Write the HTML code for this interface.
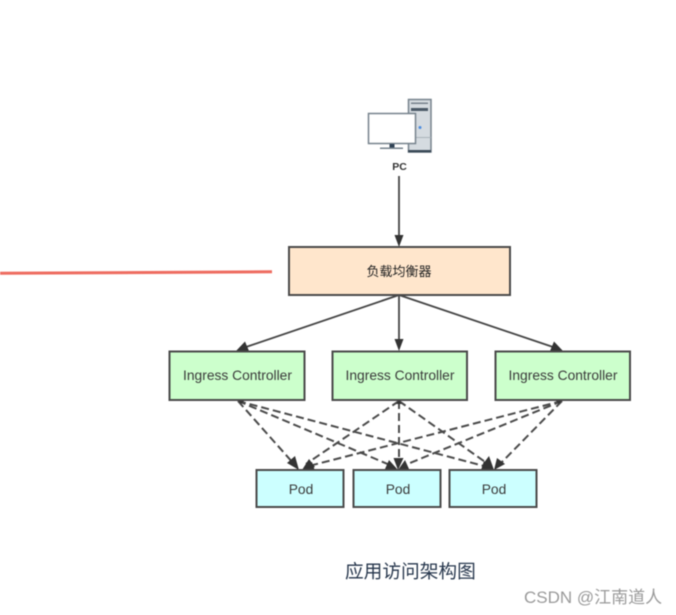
<!DOCTYPE html>
<html>
<head>
<meta charset="utf-8">
<style>
html,body{margin:0;padding:0;background:#fff;width:676px;height:615px;overflow:hidden}
svg{display:block;position:absolute;left:0;top:0}
text{font-family:"Liberation Sans","Noto Sans CJK SC",sans-serif}
.b{stroke:#4a4a4a;stroke-width:2}
.s{stroke:#444;stroke-width:1.800;fill:none}
.d{stroke:#4a4a4a;stroke-width:2;fill:none;stroke-dasharray:8 4}
.a{fill:#333}
.l{font-size:13.800px;fill:#3a3a3a;text-anchor:middle}
#m{filter:blur(0.4px)}
</style>
</head>
<body>
<svg width="676" height="615" viewBox="0 0 676 615">
<rect width="676" height="615" fill="#fff"/>
<g id="m">
<path d="M0 273.300L272 271.800" stroke="#ee6c60" stroke-width="3" fill="none"/>

<!-- PC icon -->
<rect x="408.500" y="99.500" width="22.500" height="52.500" fill="#d5dbe0" stroke="#76828c" stroke-width="1.500"/>
<rect x="408" y="150" width="23" height="2.500" fill="#3b4a58"/>
<rect x="411" y="102.500" width="17" height="1.500" fill="#76828c"/>
<rect x="411" y="108" width="17" height="3" fill="#4a5866"/>
<circle cx="420" cy="127.500" r="1.500" fill="#4d8ee0"/>
<line x1="408.500" y1="137.500" x2="431" y2="137.500" stroke="#aab3ba"/>
<rect x="368.500" y="113.500" width="47" height="30" fill="#fff" stroke="#76828c" stroke-width="1.500"/>
<rect x="389.500" y="144" width="5" height="4" fill="#2f4254"/>
<rect x="380" y="147.500" width="23" height="1.500" fill="#76828c"/>
<text x="399.500" y="170" font-size="10.500" font-weight="bold" fill="#333" text-anchor="middle">PC</text>

<!-- Solid connectors -->
<line class="s" x1="399" y1="176" x2="399" y2="238"/>
<polygon class="a" points="399,247 394.500,235 403.500,235"/>
<line class="s" x1="399" y1="295" x2="246" y2="347"/>
<polygon class="a" points="236,351 245,341.500 249,351"/>
<line class="s" x1="399" y1="295" x2="399" y2="342"/>
<polygon class="a" points="399,351 394.500,339 403.500,339"/>
<line class="s" x1="399" y1="295" x2="553" y2="347"/>
<polygon class="a" points="563,351 550,351 554,341.500"/>

<!-- Dashed connectors -->
<path class="d" d="M238 401L294 464"/>
<path class="d" d="M238 401L390 465"/>
<path class="d" d="M238 401L484 466"/>
<path class="d" d="M399 401L306 464"/>
<path class="d" d="M399 401L399 461"/>
<path class="d" d="M399 401L488 464"/>
<path class="d" d="M562 401L309 466"/>
<path class="d" d="M562 401L405 465"/>
<path class="d" d="M562 401L500 464"/>
<g class="a">
<polygon points="299,470 287,463 295,456"/>
<polygon points="302,470 309,459 315,467"/>
<polygon points="302,470 312,462 315,471"/>
<polygon points="398,470 385,469 389,460"/>
<polygon points="398,470 393.500,458 403.500,458"/>
<polygon points="398,470 405,460 409,469"/>
<polygon points="494,470 481,470 484,461"/>
<polygon points="494,470 483,464 489,456"/>
<polygon points="494,470 497,458 505,464"/>
<polygon points="238,400 244,401 241,404"/>
<polygon points="399,400 396,404 402,404"/>
<polygon points="562,400 556,401 559,404"/>
</g>

<!-- Boxes -->
<rect class="b" x="289" y="247" width="221" height="48" fill="#ffe6cc"/>
<rect class="b" x="169.500" y="351.500" width="135" height="48.500" fill="#ccffcc"/>
<rect class="b" x="332.500" y="351.500" width="134.500" height="48.500" fill="#ccffcc"/>
<rect class="b" x="495.500" y="351.500" width="134.500" height="48.500" fill="#ccffcc"/>
<rect class="b" x="256.500" y="470" width="87" height="37" fill="#ccffff"/>
<rect class="b" x="353.500" y="470" width="87" height="37" fill="#ccffff"/>
<rect class="b" x="449.500" y="470" width="87" height="37" fill="#ccffff"/>

<!-- Labels -->
<text class="l" x="399" y="276" style="font-size:13px;fill:#222">负载均衡器</text>
<text class="l" x="237.500" y="380">Ingress Controller</text>
<text class="l" x="400" y="380">Ingress Controller</text>
<text class="l" x="563" y="380">Ingress Controller</text>
<text class="l" x="301" y="494">Pod</text>
<text class="l" x="398" y="494">Pod</text>
<text class="l" x="494" y="494">Pod</text>

<text x="345" y="578" font-size="18.700" fill="#27374d">应用访问架构图</text>
<text x="524" y="603" font-size="17" fill="#9a9a9a">CSDN @江南道人</text>
</g>
</svg>
</body>
</html>
